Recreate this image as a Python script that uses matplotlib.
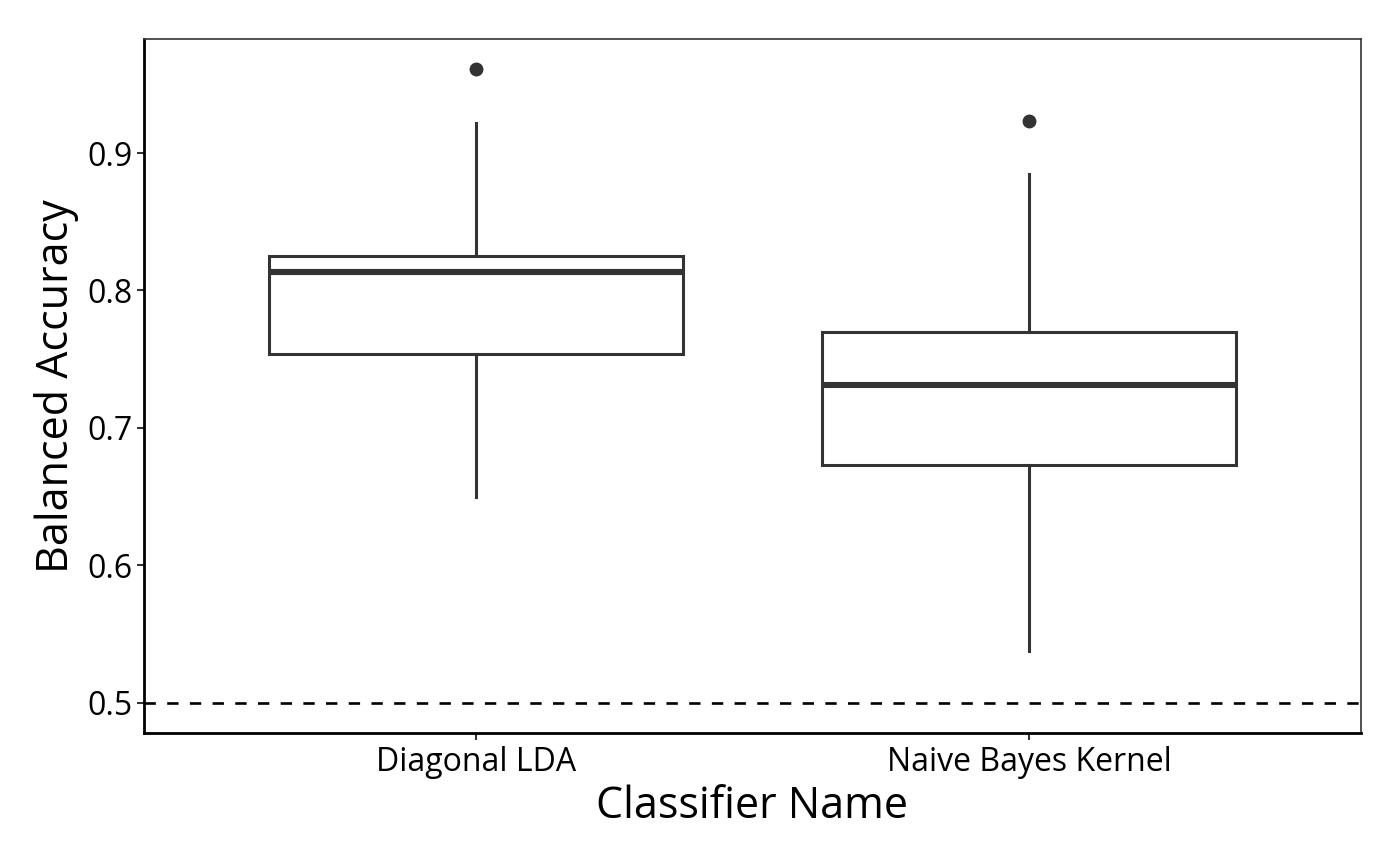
import matplotlib
matplotlib.use("Agg")
import matplotlib.pyplot as plt

plt.rcParams['font.family'] = ['Open Sans', 'DejaVu Sans']

# Box statistics
classifiers = ["Diagonal LDA", "Naive Bayes Kernel"]
whisker_low = [0.650, 0.538]
q1 = [0.754, 0.673]
median = [0.8135, 0.731]
q3 = [0.825, 0.770]
whisker_high = [0.922, 0.885]
outliers = [[0.961], [0.923]]

chance_level = 0.5
yticks = [0.5, 0.6, 0.7, 0.8, 0.9]

stats = []
for i, name in enumerate(classifiers):
    stats.append(dict(label=name, whislo=whisker_low[i], q1=q1[i], med=median[i],
                      q3=q3[i], whishi=whisker_high[i], fliers=outliers[i]))

fig = plt.figure(figsize=(14, 8.65), dpi=100)
ax = fig.add_axes([0.1029, 0.1526, 0.8692, 0.8023])

dark = '#333333'
ax.axhline(chance_level, color='black', lw=1.9, ls=(0, (4.3, 4.3)), zorder=1)
ax.bxp(stats, positions=[1, 2], widths=0.75, showcaps=False, patch_artist=True,
       boxprops=dict(facecolor='white', edgecolor=dark, linewidth=2.2),
       whiskerprops=dict(color=dark, linewidth=2.2),
       medianprops=dict(color=dark, linewidth=4.4, solid_capstyle='butt'),
       flierprops=dict(marker='o', markerfacecolor=dark, markeredgecolor=dark,
                       markersize=9))

ax.set_xlim(0.4, 2.6)
ax.set_ylim(0.478, 0.983)
ax.set_yticks(yticks)
ax.set_yticklabels([f"{v:g}" for v in yticks])
ax.set_xticks([1, 2])
ax.set_xticklabels(classifiers)

for side in ['top', 'right']:
    ax.spines[side].set_color(dark)
    ax.spines[side].set_linewidth(1.2)
for side in ['left', 'bottom']:
    ax.spines[side].set_color('black')
    ax.spines[side].set_linewidth(2.0)

ax.tick_params(axis='both', colors=dark, length=5, width=1.5, labelsize=23,
               labelcolor='black', pad=3)
ax.tick_params(axis='x', pad=4.5)
ax.set_xlabel("Classifier Name", fontsize=31, labelpad=4)
ax.set_ylabel("Balanced Accuracy", fontsize=31, labelpad=6)

fig.savefig("out.png", dpi=100)
